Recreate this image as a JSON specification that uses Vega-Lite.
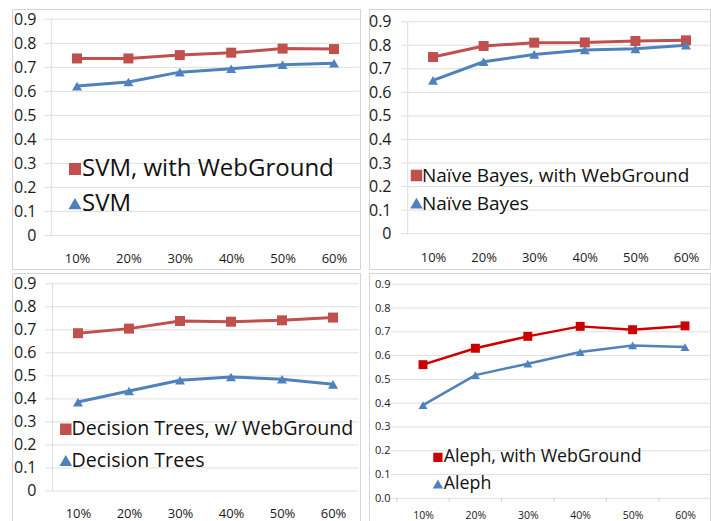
{
  "$schema": "https://vega.github.io/schema/vega-lite/v6.json",
  "background": "white",
  "padding": {"left": 11, "top": 8, "right": 0, "bottom": 0},
  "config": {
    "font": "Open Sans",
    "view": {"stroke": "#D4D4D4", "strokeWidth": 1},
    "axis": {"labelColor": "#1a1a1a", "labelFont": "Open Sans", "labelFlush": false, "labelOverlap": false, "labelBound": false},
    "legend": {"padding": 0, "offset": 0, "labelFont": "Open Sans", "labelColor": "#111111", "labelLimit": 500}
  },
  "datasets": {
    "grid": [{"g": 0}, {"g": 0.1}, {"g": 0.2}, {"g": 0.3}, {"g": 0.4}, {"g": 0.5}, {"g": 0.6}, {"g": 0.7}, {"g": 0.8}, {"g": 0.9}],
    "bounds": [{"b": 5}, {"b": 15}, {"b": 25}, {"b": 35}, {"b": 45}, {"b": 55}, {"b": 65}],
    "d": [
      {"p": "TL", "s": "SVM, with WebGround", "x": 10, "v": 0.737},
      {"p": "TL", "s": "SVM, with WebGround", "x": 20, "v": 0.737},
      {"p": "TL", "s": "SVM, with WebGround", "x": 30, "v": 0.751},
      {"p": "TL", "s": "SVM, with WebGround", "x": 40, "v": 0.761},
      {"p": "TL", "s": "SVM, with WebGround", "x": 50, "v": 0.778},
      {"p": "TL", "s": "SVM, with WebGround", "x": 60, "v": 0.776},
      {"p": "TL", "s": "SVM", "x": 10, "v": 0.622},
      {"p": "TL", "s": "SVM", "x": 20, "v": 0.639},
      {"p": "TL", "s": "SVM", "x": 30, "v": 0.68},
      {"p": "TL", "s": "SVM", "x": 40, "v": 0.694},
      {"p": "TL", "s": "SVM", "x": 50, "v": 0.711},
      {"p": "TL", "s": "SVM", "x": 60, "v": 0.717},
      {"p": "TR", "s": "Naïve Bayes, with WebGround", "x": 10, "v": 0.75},
      {"p": "TR", "s": "Naïve Bayes, with WebGround", "x": 20, "v": 0.797},
      {"p": "TR", "s": "Naïve Bayes, with WebGround", "x": 30, "v": 0.811},
      {"p": "TR", "s": "Naïve Bayes, with WebGround", "x": 40, "v": 0.812},
      {"p": "TR", "s": "Naïve Bayes, with WebGround", "x": 50, "v": 0.818},
      {"p": "TR", "s": "Naïve Bayes, with WebGround", "x": 60, "v": 0.821},
      {"p": "TR", "s": "Naïve Bayes", "x": 10, "v": 0.651},
      {"p": "TR", "s": "Naïve Bayes", "x": 20, "v": 0.73},
      {"p": "TR", "s": "Naïve Bayes", "x": 30, "v": 0.761},
      {"p": "TR", "s": "Naïve Bayes", "x": 40, "v": 0.78},
      {"p": "TR", "s": "Naïve Bayes", "x": 50, "v": 0.785},
      {"p": "TR", "s": "Naïve Bayes", "x": 60, "v": 0.8},
      {"p": "BL", "s": "Decision Trees, w/ WebGround", "x": 10, "v": 0.685},
      {"p": "BL", "s": "Decision Trees, w/ WebGround", "x": 20, "v": 0.705},
      {"p": "BL", "s": "Decision Trees, w/ WebGround", "x": 30, "v": 0.738},
      {"p": "BL", "s": "Decision Trees, w/ WebGround", "x": 40, "v": 0.735},
      {"p": "BL", "s": "Decision Trees, w/ WebGround", "x": 50, "v": 0.741},
      {"p": "BL", "s": "Decision Trees, w/ WebGround", "x": 60, "v": 0.753},
      {"p": "BL", "s": "Decision Trees", "x": 10, "v": 0.386},
      {"p": "BL", "s": "Decision Trees", "x": 20, "v": 0.434},
      {"p": "BL", "s": "Decision Trees", "x": 30, "v": 0.481},
      {"p": "BL", "s": "Decision Trees", "x": 40, "v": 0.495},
      {"p": "BL", "s": "Decision Trees", "x": 50, "v": 0.485},
      {"p": "BL", "s": "Decision Trees", "x": 60, "v": 0.463},
      {"p": "BR", "s": "Aleph, with WebGround", "x": 10, "v": 0.562},
      {"p": "BR", "s": "Aleph, with WebGround", "x": 20, "v": 0.631},
      {"p": "BR", "s": "Aleph, with WebGround", "x": 30, "v": 0.681},
      {"p": "BR", "s": "Aleph, with WebGround", "x": 40, "v": 0.723},
      {"p": "BR", "s": "Aleph, with WebGround", "x": 50, "v": 0.709},
      {"p": "BR", "s": "Aleph, with WebGround", "x": 60, "v": 0.725},
      {"p": "BR", "s": "Aleph", "x": 10, "v": 0.392},
      {"p": "BR", "s": "Aleph", "x": 20, "v": 0.518},
      {"p": "BR", "s": "Aleph", "x": 30, "v": 0.566},
      {"p": "BR", "s": "Aleph", "x": 40, "v": 0.615},
      {"p": "BR", "s": "Aleph", "x": 50, "v": 0.643},
      {"p": "BR", "s": "Aleph", "x": 60, "v": 0.636}
    ]
  },
  "spacing": 2,
  "resolve": {
    "scale": {"x": "independent", "y": "independent", "color": "independent", "shape": "independent"},
    "legend": {"color": "independent", "shape": "independent"}
  },
  "vconcat": [
    {
      "spacing": 7,
      "resolve": {
        "scale": {"x": "independent", "y": "independent", "color": "independent", "shape": "independent"},
        "legend": {"color": "independent", "shape": "independent"}
      },
      "hconcat": [
        {
          "width": 348,
          "height": 260,
          "layer": [
            {
              "data": {"name": "grid"},
              "mark": {"type": "rule", "color": "#DEDEDE", "strokeWidth": 1},
              "encoding": {
                "y": {"field": "g", "type": "quantitative", "scale": {"domain": [-0.14, 0.943], "nice": false, "zero": false}, "axis": {"values": [0, 0.1, 0.2, 0.3, 0.4, 0.5, 0.6, 0.7, 0.8, 0.9], "format": ".1~f", "grid": false, "domain": false, "ticks": false, "tickSize": 0, "labelPadding": -24, "labelFontSize": 16, "title": null}},
                "x": {"datum": 3.6, "type": "quantitative", "scale": {"domain": [-2.65, 65.06], "nice": false, "zero": false}, "axis": {"values": [10, 20, 30, 40, 50, 60], "labelExpr": "datum.value + '%'", "grid": false, "domain": false, "ticks": false, "tickSize": 0, "labelPadding": -10.3, "labelBaseline": "middle", "labelFontSize": 13, "title": null}},
                "x2": {"datum": 65}
              }
            },
            {
              "data": {"values": [{}]},
              "mark": {"type": "rule", "color": "#DEDEDE", "strokeWidth": 1},
              "encoding": {
                "x": {"datum": 5, "type": "quantitative", "axis": {"values": [10, 20, 30, 40, 50, 60], "labelExpr": "datum.value + '%'", "grid": false, "domain": false, "ticks": false, "tickSize": 0, "labelPadding": -10.3, "labelBaseline": "middle", "labelFontSize": 13, "title": null}},
                "y": {"datum": 0, "type": "quantitative", "axis": {"values": [0, 0.1, 0.2, 0.3, 0.4, 0.5, 0.6, 0.7, 0.8, 0.9], "format": ".1~f", "grid": false, "domain": false, "ticks": false, "tickSize": 0, "labelPadding": -24, "labelFontSize": 16, "title": null}},
                "y2": {"datum": 0.9}
              }
            },
            {
              "data": {"name": "d"},
              "transform": [{"filter": "datum.p == 'TL'"}],
              "encoding": {
                "x": {"field": "x", "type": "quantitative", "axis": {"values": [10, 20, 30, 40, 50, 60], "labelExpr": "datum.value + '%'", "grid": false, "domain": false, "ticks": false, "tickSize": 0, "labelPadding": -10.3, "labelBaseline": "middle", "labelFontSize": 13, "title": null}},
                "y": {"field": "v", "type": "quantitative", "axis": {"values": [0, 0.1, 0.2, 0.3, 0.4, 0.5, 0.6, 0.7, 0.8, 0.9], "format": ".1~f", "grid": false, "domain": false, "ticks": false, "tickSize": 0, "labelPadding": -24, "labelFontSize": 16, "title": null}},
                "color": {"field": "s", "type": "nominal", "scale": {"domain": ["SVM, with WebGround", "SVM"], "range": ["#C0504D", "#4F81BD"]}, "legend": {"orient": "none", "legendX": 51, "legendY": 148, "title": null, "labelFontSize": 24, "rowPadding": 11, "symbolSize": 110, "labelOffset": -5}}
              },
              "layer": [
                {"mark": {"type": "line", "strokeWidth": 3, "strokeJoin": "round"}},
                {
                  "mark": {"type": "point", "filled": true, "size": 100, "opacity": 1},
                  "encoding": {"shape": {"field": "s", "type": "nominal", "scale": {"domain": ["SVM, with WebGround", "SVM"], "range": ["square", "triangle-up"]}}}
                }
              ]
            }
          ]
        },
        {
          "width": 341,
          "height": 260,
          "layer": [
            {
              "data": {"name": "grid"},
              "mark": {"type": "rule", "color": "#DEDEDE", "strokeWidth": 1},
              "encoding": {
                "y": {"field": "g", "type": "quantitative", "scale": {"domain": [-0.15, 0.954], "nice": false, "zero": false}, "axis": {"values": [0, 0.1, 0.2, 0.3, 0.4, 0.5, 0.6, 0.7, 0.8, 0.9], "format": ".1~f", "grid": false, "domain": false, "ticks": false, "tickSize": 0, "labelPadding": -22, "labelFontSize": 16, "title": null}},
                "x": {"datum": 3.8, "type": "quantitative", "scale": {"domain": [-2.65, 64.74], "nice": false, "zero": false}, "axis": {"values": [10, 20, 30, 40, 50, 60], "labelExpr": "datum.value + '%'", "grid": false, "domain": false, "ticks": false, "tickSize": 0, "labelPadding": -11.3, "labelBaseline": "middle", "labelFontSize": 13, "title": null}},
                "x2": {"datum": 65}
              }
            },
            {
              "data": {"values": [{}]},
              "mark": {"type": "rule", "color": "#DEDEDE", "strokeWidth": 1},
              "encoding": {
                "x": {"datum": 5, "type": "quantitative", "axis": {"values": [10, 20, 30, 40, 50, 60], "labelExpr": "datum.value + '%'", "grid": false, "domain": false, "ticks": false, "tickSize": 0, "labelPadding": -11.3, "labelBaseline": "middle", "labelFontSize": 13, "title": null}},
                "y": {"datum": 0, "type": "quantitative", "axis": {"values": [0, 0.1, 0.2, 0.3, 0.4, 0.5, 0.6, 0.7, 0.8, 0.9], "format": ".1~f", "grid": false, "domain": false, "ticks": false, "tickSize": 0, "labelPadding": -22, "labelFontSize": 16, "title": null}},
                "y2": {"datum": 0.9}
              }
            },
            {
              "data": {"name": "d"},
              "transform": [{"filter": "datum.p == 'TR'"}],
              "encoding": {
                "x": {"field": "x", "type": "quantitative", "axis": {"values": [10, 20, 30, 40, 50, 60], "labelExpr": "datum.value + '%'", "grid": false, "domain": false, "ticks": false, "tickSize": 0, "labelPadding": -11.3, "labelBaseline": "middle", "labelFontSize": 13, "title": null}},
                "y": {"field": "v", "type": "quantitative", "axis": {"values": [0, 0.1, 0.2, 0.3, 0.4, 0.5, 0.6, 0.7, 0.8, 0.9], "format": ".1~f", "grid": false, "domain": false, "ticks": false, "tickSize": 0, "labelPadding": -22, "labelFontSize": 16, "title": null}},
                "color": {"field": "s", "type": "nominal", "scale": {"domain": ["Naïve Bayes, with WebGround", "Naïve Bayes"], "range": ["#C0504D", "#4F81BD"]}, "legend": {"orient": "none", "legendX": 38, "legendY": 157, "title": null, "labelFontSize": 19, "rowPadding": 8, "symbolSize": 100, "labelOffset": -4}}
              },
              "layer": [
                {"mark": {"type": "line", "strokeWidth": 3, "strokeJoin": "round"}},
                {
                  "mark": {"type": "point", "filled": true, "size": 100, "opacity": 1},
                  "encoding": {"shape": {"field": "s", "type": "nominal", "scale": {"domain": ["Naïve Bayes, with WebGround", "Naïve Bayes"], "range": ["square", "triangle-up"]}}}
                }
              ]
            }
          ]
        }
      ]
    },
    {
      "spacing": 7,
      "resolve": {
        "scale": {"x": "independent", "y": "independent", "color": "independent", "shape": "independent"},
        "legend": {"color": "independent", "shape": "independent"}
      },
      "hconcat": [
        {
          "width": 348,
          "height": 250,
          "layer": [
            {
              "data": {"name": "grid"},
              "mark": {"type": "rule", "color": "#DEDEDE", "strokeWidth": 1},
              "encoding": {
                "y": {"field": "g", "type": "quantitative", "scale": {"domain": [-0.139, 0.9465], "nice": false, "zero": false}, "axis": {"values": [0, 0.1, 0.2, 0.3, 0.4, 0.5, 0.6, 0.7, 0.8, 0.9], "format": ".1~f", "grid": false, "domain": false, "ticks": false, "tickSize": 0, "labelPadding": -24, "labelFontSize": 16, "title": null}},
                "x": {"datum": 3.6, "type": "quantitative", "scale": {"domain": [-2.94, 65.29], "nice": false, "zero": false}, "axis": {"values": [10, 20, 30, 40, 50, 60], "labelExpr": "datum.value + '%'", "grid": false, "domain": false, "ticks": false, "tickSize": 0, "labelPadding": -9.5, "labelBaseline": "middle", "labelFontSize": 13, "title": null}},
                "x2": {"datum": 65}
              }
            },
            {
              "data": {"values": [{}]},
              "mark": {"type": "rule", "color": "#DEDEDE", "strokeWidth": 1},
              "encoding": {
                "x": {"datum": 5, "type": "quantitative", "axis": {"values": [10, 20, 30, 40, 50, 60], "labelExpr": "datum.value + '%'", "grid": false, "domain": false, "ticks": false, "tickSize": 0, "labelPadding": -9.5, "labelBaseline": "middle", "labelFontSize": 13, "title": null}},
                "y": {"datum": 0, "type": "quantitative", "axis": {"values": [0, 0.1, 0.2, 0.3, 0.4, 0.5, 0.6, 0.7, 0.8, 0.9], "format": ".1~f", "grid": false, "domain": false, "ticks": false, "tickSize": 0, "labelPadding": -24, "labelFontSize": 16, "title": null}},
                "y2": {"datum": 0.9}
              }
            },
            {
              "data": {"name": "d"},
              "transform": [{"filter": "datum.p == 'BL'"}],
              "encoding": {
                "x": {"field": "x", "type": "quantitative", "axis": {"values": [10, 20, 30, 40, 50, 60], "labelExpr": "datum.value + '%'", "grid": false, "domain": false, "ticks": false, "tickSize": 0, "labelPadding": -9.5, "labelBaseline": "middle", "labelFontSize": 13, "title": null}},
                "y": {"field": "v", "type": "quantitative", "axis": {"values": [0, 0.1, 0.2, 0.3, 0.4, 0.5, 0.6, 0.7, 0.8, 0.9], "format": ".1~f", "grid": false, "domain": false, "ticks": false, "tickSize": 0, "labelPadding": -24, "labelFontSize": 16, "title": null}},
                "color": {"field": "s", "type": "nominal", "scale": {"domain": ["Decision Trees, w/ WebGround", "Decision Trees"], "range": ["#C0504D", "#4F81BD"]}, "legend": {"orient": "none", "legendX": 44, "legendY": 146.5, "title": null, "labelFontSize": 19.6, "rowPadding": 10.5, "symbolSize": 100, "labelOffset": -4}}
              },
              "layer": [
                {"mark": {"type": "line", "strokeWidth": 3, "strokeJoin": "round"}},
                {
                  "mark": {"type": "point", "filled": true, "size": 100, "opacity": 1},
                  "encoding": {"shape": {"field": "s", "type": "nominal", "scale": {"domain": ["Decision Trees, w/ WebGround", "Decision Trees"], "range": ["square", "triangle-up"]}}}
                }
              ]
            }
          ]
        },
        {
          "width": 341,
          "height": 250,
          "layer": [
            {
              "data": {"name": "grid"},
              "mark": {"type": "rule", "color": "#DEDEDE", "strokeWidth": 1},
              "encoding": {
                "y": {"field": "g", "type": "quantitative", "scale": {"domain": [-0.104, 0.9475], "nice": false, "zero": false}, "axis": {"values": [0, 0.1, 0.2, 0.3, 0.4, 0.5, 0.6, 0.7, 0.8, 0.9], "format": ".1f", "grid": false, "domain": false, "ticks": false, "tickSize": 0, "labelPadding": -21, "labelFontSize": 11, "title": null}},
                "x": {"datum": 3.9, "type": "quantitative", "scale": {"domain": [-0.305, 64.77], "nice": false, "zero": false}, "axis": {"values": [10, 20, 30, 40, 50, 60], "labelExpr": "datum.value + '%'", "grid": false, "domain": false, "ticks": false, "tickSize": 0, "labelPadding": -8, "labelBaseline": "middle", "labelFontSize": 10.5, "title": null}},
                "x2": {"datum": 65}
              }
            },
            {
              "data": {"name": "bounds"},
              "mark": {"type": "rule", "color": "#D0D0D0", "strokeWidth": 1},
              "encoding": {
                "x": {"field": "b", "type": "quantitative", "axis": {"values": [10, 20, 30, 40, 50, 60], "labelExpr": "datum.value + '%'", "grid": false, "domain": false, "ticks": false, "tickSize": 0, "labelPadding": -8, "labelBaseline": "middle", "labelFontSize": 10.5, "title": null}},
                "y": {"datum": 0, "type": "quantitative", "axis": {"values": [0, 0.1, 0.2, 0.3, 0.4, 0.5, 0.6, 0.7, 0.8, 0.9], "format": ".1f", "grid": false, "domain": false, "ticks": false, "tickSize": 0, "labelPadding": -21, "labelFontSize": 11, "title": null}},
                "y2": {"datum": -0.017}
              }
            },
            {
              "data": {"name": "d"},
              "transform": [{"filter": "datum.p == 'BR'"}],
              "encoding": {
                "x": {"field": "x", "type": "quantitative", "axis": {"values": [10, 20, 30, 40, 50, 60], "labelExpr": "datum.value + '%'", "grid": false, "domain": false, "ticks": false, "tickSize": 0, "labelPadding": -8, "labelBaseline": "middle", "labelFontSize": 10.5, "title": null}},
                "y": {"field": "v", "type": "quantitative", "axis": {"values": [0, 0.1, 0.2, 0.3, 0.4, 0.5, 0.6, 0.7, 0.8, 0.9], "format": ".1f", "grid": false, "domain": false, "ticks": false, "tickSize": 0, "labelPadding": -21, "labelFontSize": 11, "title": null}},
                "color": {"field": "s", "type": "nominal", "scale": {"domain": ["Aleph, with WebGround", "Aleph"], "range": ["#CC0000", "#4F81BD"]}, "legend": {"orient": "none", "legendX": 60, "legendY": 175.5, "title": null, "labelFontSize": 17.8, "rowPadding": 8, "symbolSize": 60, "labelOffset": -3}}
              },
              "layer": [
                {"mark": {"type": "line", "strokeWidth": 2.5, "strokeJoin": "round"}},
                {
                  "mark": {"type": "point", "filled": true, "size": 80, "opacity": 1},
                  "encoding": {"shape": {"field": "s", "type": "nominal", "scale": {"domain": ["Aleph, with WebGround", "Aleph"], "range": ["square", "triangle-up"]}}}
                }
              ]
            }
          ]
        }
      ]
    }
  ]
}
